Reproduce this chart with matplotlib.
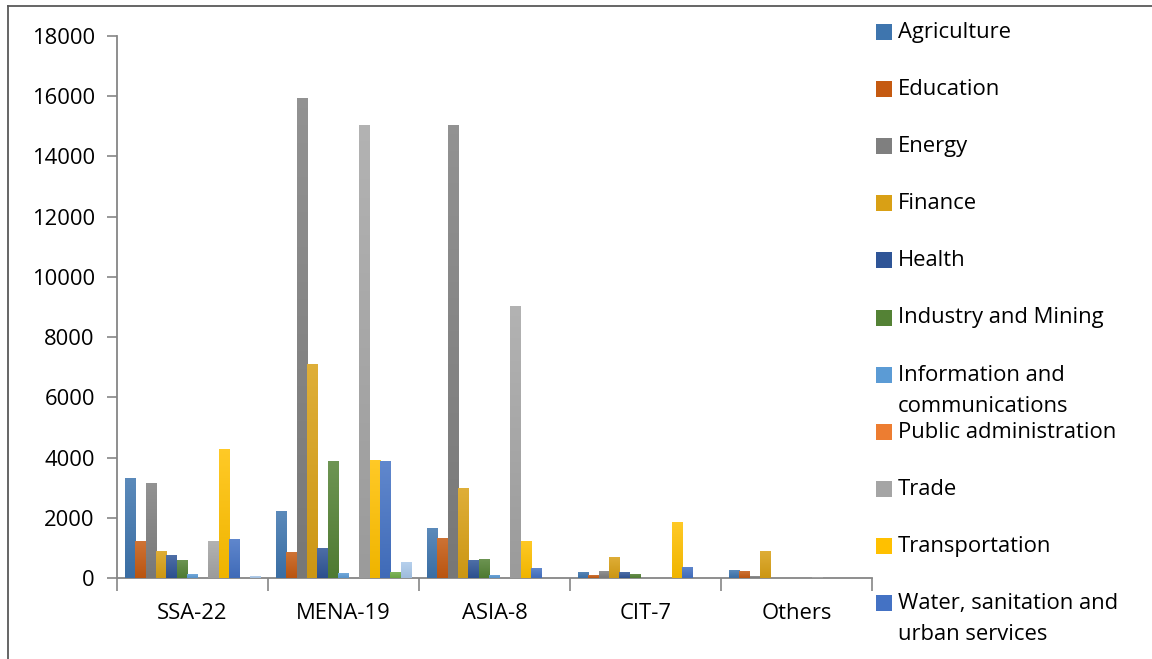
import numpy as np
import matplotlib.pyplot as plt
from matplotlib.patches import Rectangle
from matplotlib.lines import Line2D
from matplotlib.colors import to_rgb

plt.rcParams['font.family'] = ['Open Sans', 'DejaVu Sans']

regions = ['SSA-22', 'MENA-19', 'ASIA-8', 'CIT-7', 'Others']

sectors = ['Agriculture', 'Education', 'Energy', 'Finance', 'Health',
           'Industry and Mining', 'Information and\ncommunications',
           'Public administration', 'Trade', 'Transportation',
           'Water, sanitation and\nurban services', 'Series 12', 'Series 13']

# one row per sector, columns follow regions
agriculture    = [3310, 2210, 1650, 210, 255]
education      = [1220, 850, 1340, 90, 220]
energy         = [3140, 15950, 15050, 230, 60]
finance        = [900, 7100, 2980, 710, 910]
health         = [750, 1000, 590, 190, 0]
industry       = [600, 3900, 640, 140, 0]
info_comm      = [130, 150, 100, 0, 0]
public_admin   = [0, 0, 0, 0, 0]
trade          = [1220, 15030, 9030, 0, 40]
transportation = [4270, 3920, 1240, 1850, 0]
water          = [1300, 3870, 330, 375, 0]
series_12      = [0, 200, 0, 0, 0]
series_13      = [60, 520, 0, 0, 0]

values = [agriculture, education, energy, finance, health, industry,
          info_comm, public_admin, trade, transportation, water,
          series_12, series_13]

colors = ['#3E75AE', '#C55A11', '#7F7F7F', '#D9A015', '#2F5597', '#548235',
          '#5B9BD5', '#ED7D31', '#A5A5A5', '#FFC000', '#4472C4', '#70AD47',
          '#A9C8EA']

n_legend = 11  # only the first eleven fit in the legend column
FS = 15.8

fig = plt.figure(figsize=(11.52, 6.59), dpi=100)
W, H = 1152, 659
ax = fig.add_axes([117 / W, 1 - 578 / H, (872 - 117) / W, (578 - 36) / H])

x = np.arange(len(regions))
n = len(values)
w = 1 / (n + 1.5)


def shade(c):
    # light top fading to a slightly darker bottom
    rgb = np.array(to_rgb(c))
    top = rgb + (1 - rgb) * 0.15
    bot = rgb * 0.94
    t = np.linspace(0, 1, 32)[:, None]
    return (top * (1 - t) + bot * t)[:, None, :]


for i, (vals, c) in enumerate(zip(values, colors)):
    bars = ax.bar(x + (i - (n - 1) / 2) * w, vals, width=w, color='none',
                  edgecolor='none', zorder=3)
    grad = shade(c)
    for b in bars:
        if b.get_height() <= 0:
            continue
        x0, h = b.get_x(), b.get_height()
        im = ax.imshow(grad, extent=[x0, x0 + w, 0, h], origin='upper',
                       aspect='auto', zorder=3, interpolation='bilinear')
        im.set_clip_path(b)

ax.set_xlim(-0.5, len(regions) - 0.5)
ax.set_ylim(0, 18000)
ax.set_yticks(np.arange(0, 18001, 2000))
ax.set_xticks(x)
ax.set_xticklabels(regions)
ax.set_xticks(np.arange(-0.5, len(regions)), minor=True)

for side in ['top', 'right']:
    ax.spines[side].set_visible(False)
for side in ['left', 'bottom']:
    ax.spines[side].set_color('#868686')
    ax.spines[side].set_linewidth(1.3)

ax.tick_params(axis='x', which='major', length=0, pad=18, labelsize=FS)
ax.tick_params(axis='x', which='minor', length=9, width=1.2, color='#868686')
ax.tick_params(axis='y', length=7, width=1.2, color='#868686', pad=9,
               labelsize=FS)

# legend down the right side
for i in range(n_legend):
    yc = 1 - (32 + 57.1 * i) / H
    fig.add_artist(Rectangle((876 / W, yc - 8 / H), 16 / W, 16 / H,
                             facecolor=colors[i], edgecolor='none',
                             transform=fig.transFigure))
    fig.text(898 / W, yc + 10 / H, sectors[i], fontsize=FS, va='top',
             ha='left', linespacing=1.62)

# frame around the chart area
fig.add_artist(Line2D([8 / W, 8 / W], [0, 1 - 6 / H], color='#595959', lw=1.3))
fig.add_artist(Line2D([8 / W, 1], [1 - 6 / H, 1 - 6 / H], color='#595959', lw=1.3))

fig.savefig('out.png', dpi=100)
